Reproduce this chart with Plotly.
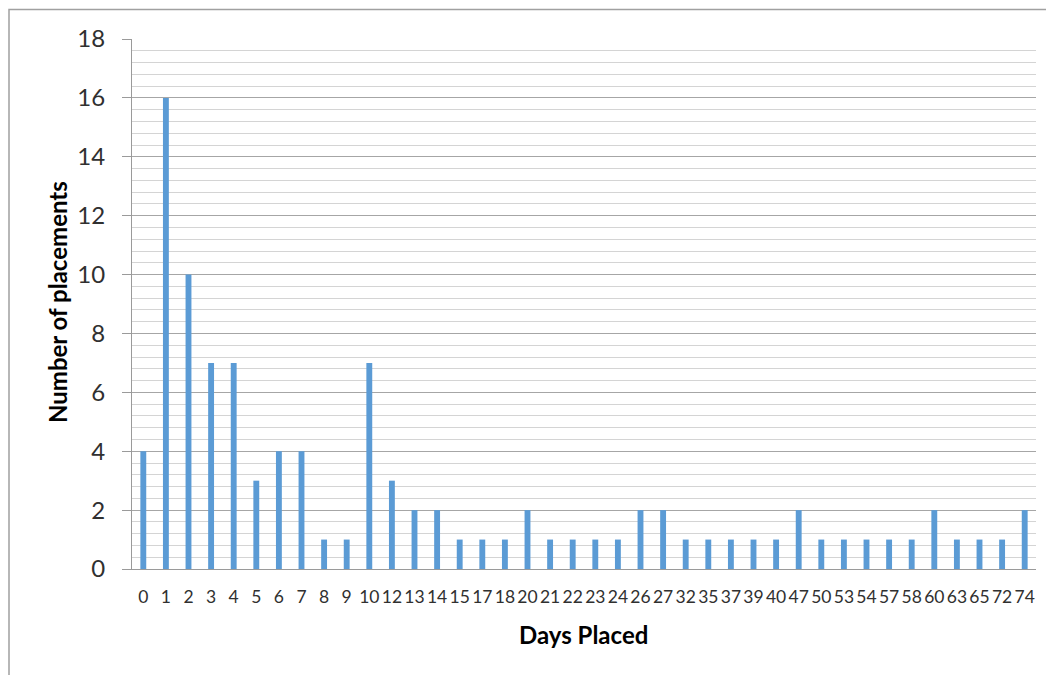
import plotly.graph_objects as go

days = ["0", "1", "2", "3", "4", "5", "6", "7", "8", "9", "10", "12", "13", "14", "15",
        "17", "18", "20", "21", "22", "23", "24", "26", "27", "32", "35", "37", "39", "40",
        "47", "50", "53", "54", "57", "58", "60", "63", "65", "72", "74"]
placements = [4, 16, 10, 7, 7, 3, 4, 4, 1, 1, 7, 3, 2, 2, 1,
              1, 1, 2, 1, 1, 1, 1, 2, 2, 1, 1, 1, 1, 1,
              2, 1, 1, 1, 1, 1, 2, 1, 1, 1, 2]
y_ticks = [0, 2, 4, 6, 8, 10, 12, 14, 16, 18]

# page body has an 8px offset; compensate so screen positions match
OFF = 8
W, H = 1054, 675
L, T = 132 - OFF, 39 - OFF
R = W - (1036 - OFF)
B = H - (569 - OFF)
pw = W - L - R
ph = H - T - B

def px_x(x):
    return (x - OFF - L) / pw

def px_y(y):
    return (H - B - (y - OFF)) / ph

fig = go.Figure()
fig.add_trace(go.Bar(x=days, y=placements, marker=dict(color="#5B9BD5", line=dict(width=0))))

fig.update_layout(
    width=W, height=H,
    margin=dict(l=L, r=R, t=T, b=B, pad=0),
    paper_bgcolor="white", plot_bgcolor="white",
    bargap=0.74,
    showlegend=False,
    font=dict(family="Lato, 'Open Sans', sans-serif", color="#404040"),
)
fig.update_xaxes(
    type="category",
    tickmode="array", tickvals=days, ticktext=days,
    tickangle=0,
    tickfont=dict(size=17.5, family="Lato", color="#303030"),
    ticks="outside", ticklen=12, tickcolor="rgba(0,0,0,0)",
    showline=True, linecolor="#9a9a9a", linewidth=1,
    showgrid=False, zeroline=False,
)
fig.update_yaxes(
    range=[0, 18],
    tickmode="array", tickvals=y_ticks,
    tickfont=dict(size=24, family="Lato", color="#303030"),
    ticks="outside", ticklen=9, tickcolor="#9a9a9a",
    ticklabelstandoff=12,
    showline=True, linecolor="#9a9a9a", linewidth=1,
    showgrid=True, gridcolor="#a6a6a6", gridwidth=1,
    minor=dict(dtick=0.4, tick0=0, showgrid=True, gridcolor="#d4d4d4", gridwidth=1, ticks=""),
    zeroline=False,
)

fig.add_annotation(
    text="<b>Number of placements</b>", textangle=-90,
    xref="paper", yref="paper", x=px_x(57), y=px_y(302),
    xanchor="center", yanchor="middle", showarrow=False,
    font=dict(size=24, family="Lato", color="#000000"),
)
fig.add_annotation(
    text="<b>Days Placed</b>",
    xref="paper", yref="paper", x=px_x(583), y=px_y(634),
    xanchor="center", yanchor="middle", showarrow=False,
    font=dict(size=24, family="Lato", color="#000000"),
)
fig.add_shape(
    type="rect", xref="paper", yref="paper",
    x0=px_x(OFF + 1), x1=px_x(1080), y0=px_y(700), y1=px_y(9.5),
    line=dict(color="#a0a0a0", width=1.5), fillcolor="rgba(0,0,0,0)", layer="below",
)

fig.write_html("out.html")
